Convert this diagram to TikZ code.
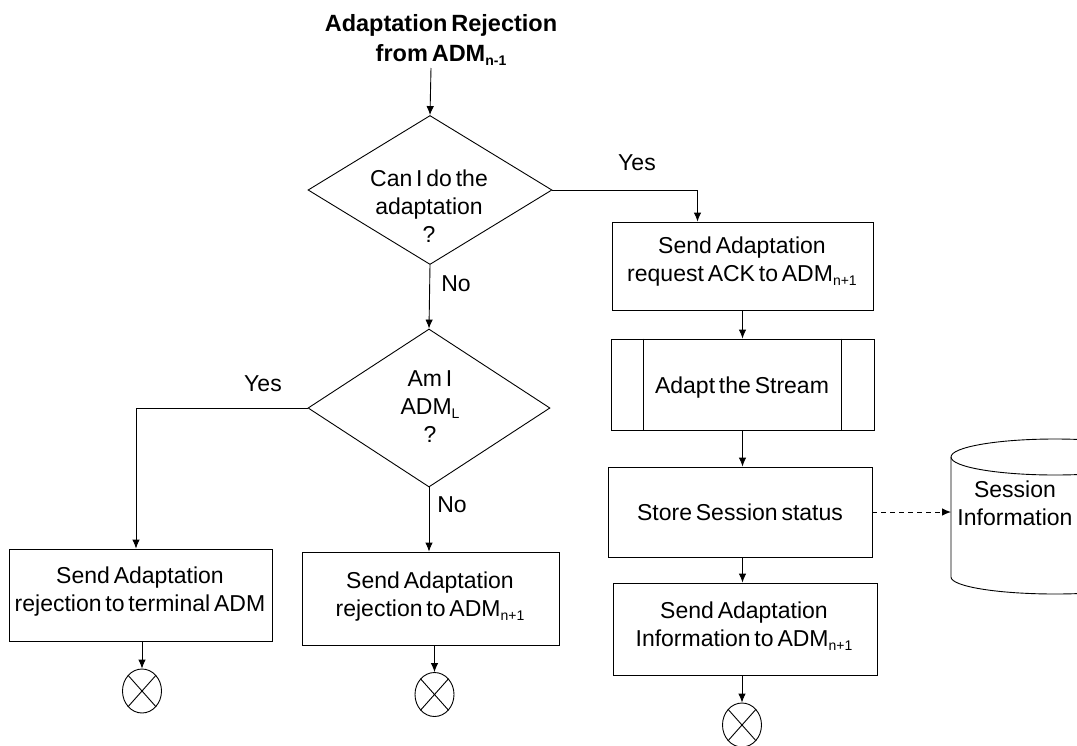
\documentclass[tikz,border=0pt]{standalone}
\usepackage{fontspec}
\setmainfont{Liberation Sans}[WordSpace=0.6]
\usetikzlibrary{shapes.geometric,arrows.meta}
\newcommand\subtxt[1]{\raisebox{-4pt}{\fontsize{14}{14}\selectfont #1}}
\begin{document}
\begin{tikzpicture}[x=1pt,y=-1pt,
  line width=0.9pt,
  every node/.style={font=\fontsize{23}{28}\selectfont},
  arr/.style={-{Latex[length=9pt,width=7.5pt]}},
  proc/.style={draw,rectangle,inner sep=0pt},
  decision/.style={draw,diamond,inner sep=0pt},
  txt/.style={align=center,inner sep=0pt},
  endmark/.style={draw,ellipse,inner sep=0pt}]
\useasboundingbox (0,0) rectangle (1077,745);
\clip (0,0) rectangle (1077,745);

% start label
\node[txt,font=\fontsize{23.5}{30}\selectfont\bfseries] (start) at (441,40)
  {Adaptation Rejection\\from ADM\subtxt{n-1}};

% decisions
\node[decision,minimum width=244pt,minimum height=149pt] (d1) at (430,190) {};
\node[txt] (d1t) at (429,206) {Can I do the\\adaptation\\?};
\node[decision,minimum width=242pt,minimum height=158pt] (d2) at (429,408) {};
\node[txt] (d2t) at (430,407) {Am I\\ADM\subtxt{L}\\?};

% right column
\node[proc,minimum width=261pt,minimum height=88pt] (b1) at (742.5,266) {};
\node[txt] (b1t) at (742,262) {Send Adaptation\\request ACK to ADM\subtxt{n+1}};
\node[proc,minimum width=263pt,minimum height=91pt] (b2) at (742.5,384.5) {};
\draw ([xshift=33pt]b2.north west) -- ([xshift=33pt]b2.south west);
\draw ([xshift=-33pt]b2.north east) -- ([xshift=-33pt]b2.south east);
\node[txt] (b2t) at (742,388) {Adapt the Stream};
\node[proc,minimum width=264pt,minimum height=90pt] (b3) at (740,512) {};
\node[txt] (b3t) at (740,512) {Store Session status};
\node[proc,minimum width=264pt,minimum height=92pt] (b4) at (745,629) {};
\node[txt] (b4t) at (744,626) {Send Adaptation\\Information to ADM\subtxt{n+1}};

% left and middle outcomes
\node[proc,minimum width=263pt,minimum height=92pt] (b5) at (140.5,595) {};
\node[txt] (b5t) at (140,592) {Send Adaptation\\rejection to terminal ADM};
\node[proc,minimum width=257pt,minimum height=93pt] (b6) at (430.5,598.5) {};
\node[txt] (b6t) at (430,597) {Send Adaptation\\rejection to ADM\subtxt{n+1}};

% end marks
\foreach \n/\x/\y in {e5/142/691, e6/434.5/694.5, e4/742/725}{
  \node[endmark,minimum width=39pt,minimum height=44pt] (\n) at (\x,\y) {};
  \draw (\n.north west) -- (\n.south east) (\n.north east) -- (\n.south west);
}

% session store (cylinder)
\draw (1055,457) ellipse [x radius=104, y radius=18];
\draw (951,457) -- (951,577) arc [start angle=180, end angle=0, x radius=104, y radius=17] -- (1159,457);
\node[txt] (db) at (1015,503) {Session\\Information};
\coordinate (dbw) at (951,512);

% connectors
\coordinate (s0) at (431,68);
\draw[arr] (s0) -- (d1.north);
\draw[arr] (d1.east) -| ([xshift=-45pt]b1.north);
\node[txt] (yes1) at (637,163) {Yes};
\draw[arr] (d1.south) -- (d2.north);
\node[txt] (no1) at (456,284) {No};
\draw[arr] (d2.west) -| ([xshift=-4.5pt]b5.north);
\node[txt] (yes2) at (263,384) {Yes};
\draw[arr] (d2.south) -- (d2.south |- b6.north);
\node[txt] (no2) at (452,505) {No};
\draw[arr] (b1.south) -- (b2.north);
\draw[arr] (b2.south) -- (b2.south |- b3.north);
\draw[arr] (b3.south -| b2.south) -- (b2.south |- b4.north);
\draw[arr,dash pattern=on 5pt off 4pt] (b3.east) -- (dbw);
\draw[arr] (b5.south -| e5.north) -- (e5.north);
\draw[arr] (b6.south -| e6.north) -- (e6.north);
\draw[arr] (b4.south -| e4.north) -- (e4.north);
\end{tikzpicture}
\end{document}
